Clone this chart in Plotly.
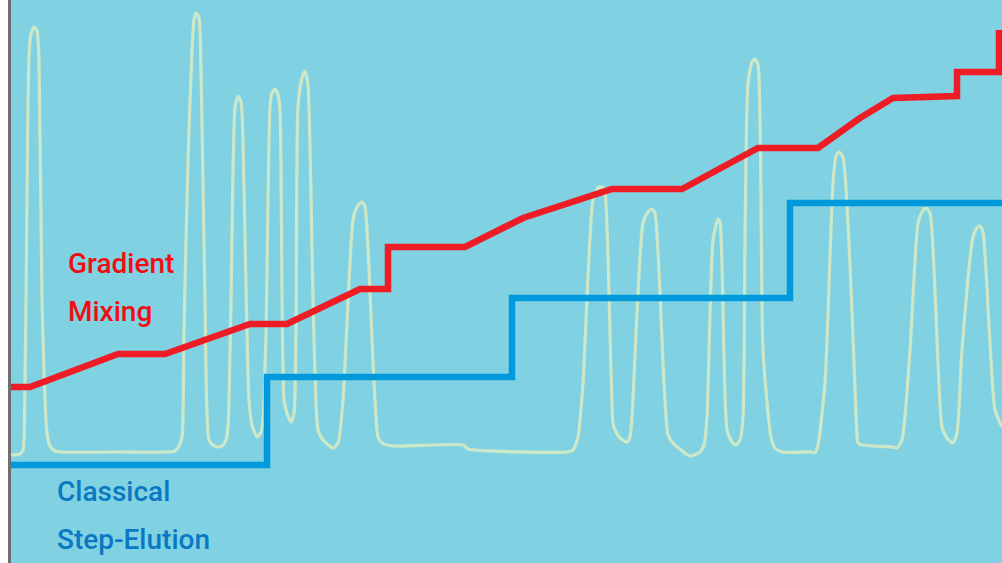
import plotly.graph_objects as go

# Chromatogram trace (x = time position, y = depth from top of panel; axis reversed)
chrom_x = [10, 20, 23, 24, 26, 29, 31, 34, 37, 39, 42, 47, 50, 55, 62, 120, 175, 179, 182,
           184, 188, 192, 194, 196, 199, 201, 205, 209, 213, 218, 222, 226, 228,
           231, 235, 238, 241, 244, 249, 252, 257, 261, 263,
           266, 270, 272, 275, 278, 280, 284, 287, 291, 294,
           296, 298, 302, 305, 308, 318, 323, 333, 338, 343,
           353, 357, 362, 365, 378, 382, 393, 463, 468, 567, 573, 578,
           583, 593, 598, 602, 605, 613, 615, 620, 627, 630,
           632, 643, 648, 652, 655, 668, 673, 690, 700, 704,
           707, 713, 718, 720, 727, 732, 736, 740, 743,
           745, 748, 752, 755, 758, 763, 771, 775, 782, 812, 815, 818,
           825, 833, 836, 839, 843, 857, 858, 862, 893, 897, 902,
           910, 918, 922, 926, 930, 942, 947, 953, 957,
           962, 973, 977, 980, 983, 995, 1002]
chrom_y = [455, 454, 450, 440, 300, 55, 34, 27, 31, 60, 300, 433, 446, 451, 452, 452, 451, 446, 437,
           330, 160, 50, 20, 13, 18, 70, 300, 440, 445, 447, 446, 440, 427,
           300, 108, 96, 102, 190, 400, 425, 437, 432, 420,
           333, 107, 93, 89, 95, 110, 400, 413, 422, 413,
           333, 107, 78, 71, 85, 430, 440, 448, 443, 400,
           220, 207, 202, 207, 437, 443, 446, 445, 449, 452, 450, 437,
           383, 200, 188, 187, 193, 423, 430, 438, 442, 437,
           417, 223, 212, 209, 213, 435, 443, 456, 452, 445,
           417, 240, 219, 222, 430, 442, 445, 440, 417,
           240, 83, 62, 59, 65, 350, 437, 448, 452, 452, 453, 445,
           383, 183, 156, 152, 157, 435, 443, 445, 447, 448, 440,
           350, 223, 212, 208, 213, 427, 438, 443, 433,
           350, 237, 228, 226, 232, 410, 427]

# Gradient mixing (red) profile
grad_x = [10, 30, 118, 165, 250, 287, 360, 388, 388, 465, 523, 612, 682, 758, 818, 860, 893, 957, 957, 999, 999]
grad_y = [387, 387, 354, 354, 324, 324, 289, 289, 247, 247, 218, 189, 189, 148, 148, 118, 98, 96, 72, 72, 30]

# Classical step-elution (blue) profile
step_x = [10, 267, 267, 512, 512, 790, 790, 1002]
step_y = [465, 465, 377, 377, 298, 298, 203, 203]

BG = "#80d2e2"
PALE = "#cde7c9"
RED = "#ee1c25"
BLUE = "#0099dc"
RED_TEXT = "#f20d12"
BLUE_TEXT = "#0a78c2"

fig = go.Figure()
fig.add_trace(go.Scatter(x=chrom_x, y=chrom_y, mode="lines",
                         line=dict(color=PALE, width=3.2, shape="spline", smoothing=0.6),
                         hoverinfo="skip", showlegend=False))
fig.add_trace(go.Scatter(x=step_x, y=step_y, mode="lines",
                         line=dict(color=BLUE, width=6.5), hoverinfo="skip", showlegend=False))
fig.add_trace(go.Scatter(x=grad_x, y=grad_y, mode="lines",
                         line=dict(color=RED, width=6.5), hoverinfo="skip", showlegend=False))

font_family = "Roboto, Liberation Sans Narrow, DejaVu Sans Condensed, sans-serif"
labels = [("Gradient", 67, 274, RED_TEXT), ("Mixing", 67, 322, RED_TEXT),
          ("Classical", 56, 502, BLUE_TEXT), ("Step-Elution", 56, 550, BLUE_TEXT)]
for text, lx, ly, col in labels:
    fig.add_annotation(x=lx, y=ly, text=text, showarrow=False, xanchor="left", yanchor="bottom",
                       font=dict(family=font_family, size=28, color=col, weight=500),
                       borderpad=0, yshift=-7)

fig.update_layout(
    width=1002, height=563,
    margin=dict(l=0, r=0, t=0, b=0),
    paper_bgcolor="white", plot_bgcolor=BG,
    xaxis=dict(range=[0, 1002], visible=False, fixedrange=True),
    yaxis=dict(range=[563, 0], visible=False, fixedrange=True),
    shapes=[
        dict(type="rect", xref="x", yref="y", x0=0, x1=8, y0=0, y1=563,
             fillcolor="white", line=dict(width=0), layer="below"),
        dict(type="line", xref="x", yref="y", x0=9.5, x1=9.5, y0=0, y1=563,
             line=dict(color="#6f6f70", width=3), layer="above"),
    ],
)

fig.write_html("out.html", config={"displayModeBar": False},
               post_script="document.body.style.margin='0px';document.body.style.overflow='hidden';")
